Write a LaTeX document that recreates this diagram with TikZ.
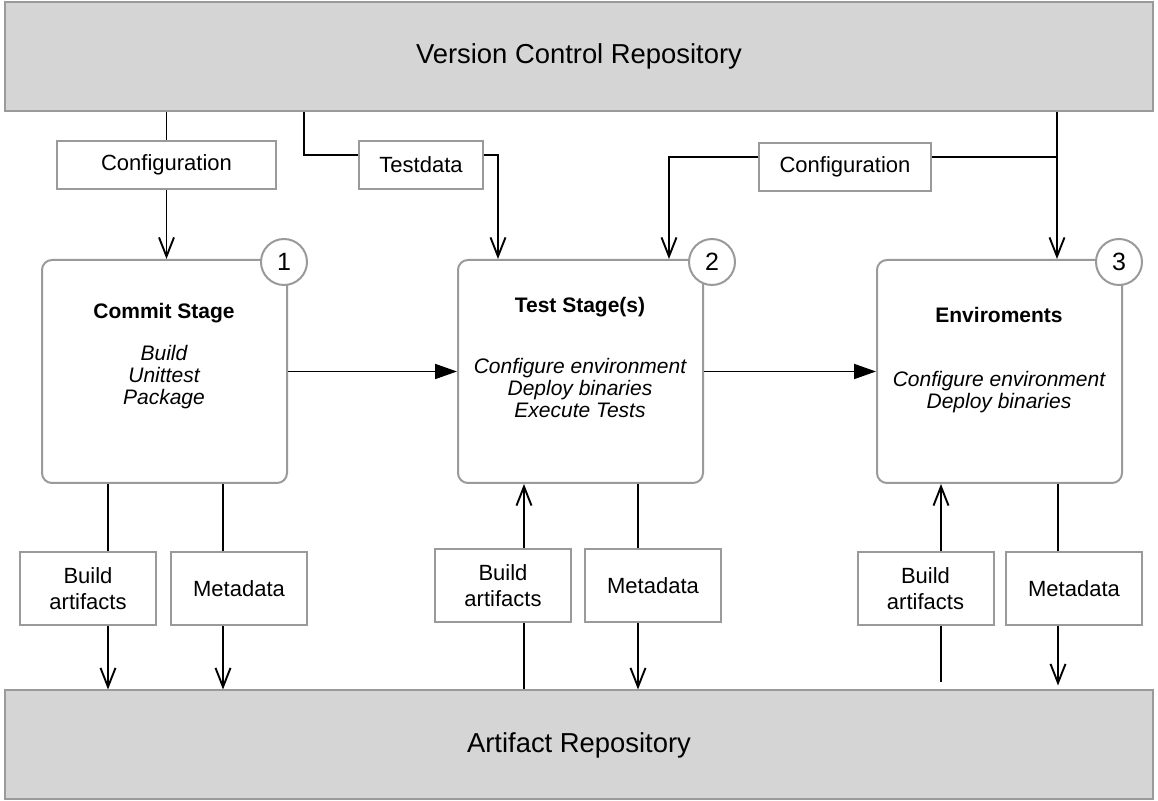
\documentclass[tikz,border=0pt]{standalone}
\usepackage{fontspec}
\setmainfont{Liberation Sans}
\usetikzlibrary{arrows.meta}
\definecolor{repogray}{HTML}{D5D5D5}
\definecolor{edgegray}{HTML}{9A9A9A}

\begin{document}
\begin{tikzpicture}[x=0.5pt,y=-0.5pt,
    repo/.style={draw=edgegray, line width=1pt, fill=repogray, minimum width=574pt, minimum height=54.5pt, font=\fontsize{13.7pt}{16pt}\selectfont},
    stage/.style={draw=edgegray, line width=1pt, rounded corners=5pt, fill=white, minimum width=122.5pt, minimum height=111.5pt},
    badge/.style={circle, draw=edgegray, line width=1pt, fill=white, minimum size=23pt, inner sep=0pt, font=\fontsize{12.5pt}{15pt}\selectfont},
    tag/.style={draw=edgegray, line width=1pt, fill=white, minimum width=68pt, minimum height=36.5pt, inner sep=0pt, align=center, font=\fontsize{11pt}{13pt}\selectfont},
    stagetitle/.style={inner sep=0pt, font=\bfseries\fontsize{10.5pt}{11pt}\selectfont},
    stagelist/.style={inner sep=0pt, align=center, font=\itshape\fontsize{10.5pt}{11pt}\selectfont},
    wire/.style={black, line width=0.95pt},
    feed/.style={wire, -{Straight Barb[length=9.5pt,width=7.5pt]}},
    push/.style={wire, -{Triangle[length=11pt,width=7.5pt]}}]
  \useasboundingbox (0,0) rectangle (1158,801);

  % repositories
  \node[repo] (vcr) at (579,56.5) {Version Control Repository};
  \node[repo] (ar) at (579,745) {Artifact Repository};

  % stages
  \node[stage] (s1) at (164.5,371.5) {};
  \node[stage] (s2) at (580.5,371.5) {};
  \node[stage] (s3) at (999.5,371.5) {};
  \node[badge] (n1) at ([shift={(-4,3)}]s1.north east) {1};
  \node[badge] (n2) at ([shift={(8,3)}]s2.north east) {2};
  \node[badge] (n3) at ([shift={(-4,3)}]s3.north east) {3};

  \node[stagetitle] (t1) at (164,313) {Commit Stage};
  \node[stagelist] (l1) at (164,377) {Build\\Unittest\\Package};
  \node[stagetitle] (t2) at (580,307) {Test Stage(s)};
  \node[stagelist] (l2) at (580,388) {Configure environment\\Deploy binaries\\Execute Tests};
  \node[stagetitle] (t3) at (999,315) {Enviroments};
  \node[stagelist] (l3) at (999,392) {Configure environment\\Deploy binaries};

  % labels on the wires
  \node[tag, minimum width=109.5pt, minimum height=24pt] (cfgA) at (166.5,165) {Configuration};
  \node[tag, minimum width=62pt, minimum height=24pt] (tdata) at (421,165) {Testdata};
  \node[tag, minimum width=86pt, minimum height=24pt] (cfgB) at (845,167) {Configuration};
  \node[tag] (ba1) at (88,588.5) {Build\\artifacts};
  \node[tag] (md1) at (239,588.5) {Metadata};
  \node[tag] (ba2) at (503,586) {Build\\artifacts};
  \node[tag] (md2) at (653,586) {Metadata};
  \node[tag] (ba3) at (925.5,588.5) {Build\\artifacts};
  \node[tag] (md3) at (1074,588.5) {Metadata};

  \coordinate (dropB) at ([xshift=106pt]s2.north west);
  \coordinate (dropC) at ([xshift=90.5pt]s3.north west);
  \coordinate (tdIn) at ([yshift=5pt]tdata.west);
  \coordinate (cfgBout) at ([yshift=5pt]cfgB.east);

  % top connectors
  \draw[wire] (cfgA.north |- vcr.south) -- (cfgA.north);
  \draw[feed] (cfgA.south) -- (cfgA.south |- s1.north);
  \draw[wire] ([xshift=150pt]vcr.south west) |- (tdIn);
  \draw[feed] ([yshift=5pt]tdata.east) -| ([xshift=20.5pt]s2.north west);
  \draw[feed] (dropC |- vcr.south) -- (dropC);
  \draw[wire] (cfgBout) -- (cfgBout -| dropC);
  \draw[feed] ([yshift=5pt]cfgB.west) -| (dropB);

  % stage to stage
  \draw[push] (s1.east) -- (s2.west);
  \draw[push] (s2.east) -- (s3.west);

  % bottom connectors
  \draw[wire] ([xshift=10pt]ba1.north |- s1.south) -- ([xshift=10pt]ba1.north);
  \draw[feed] ([xshift=10pt]ba1.south) -- ([xshift=10pt]ba1.south |- ar.north);
  \draw[wire] ([xshift=-8pt]md1.north |- s1.south) -- ([xshift=-8pt]md1.north);
  \draw[feed] ([xshift=-8pt]md1.south) -- ([xshift=-8pt]md1.south |- ar.north);

  \draw[wire] ([xshift=10.5pt]ba2.south |- ar.north) -- ([xshift=10.5pt]ba2.south);
  \draw[feed] ([xshift=10.5pt]ba2.north) -- ([xshift=10.5pt]ba2.north |- s2.south);
  \draw[wire] ([xshift=-7.5pt]md2.north |- s2.south) -- ([xshift=-7.5pt]md2.north);
  \draw[feed] ([xshift=-7.5pt]md2.south) -- ([xshift=-7.5pt]md2.south |- ar.north);

  \draw[wire] ([xshift=7.75pt,yshift=3.5pt]ba3.south |- ar.north) -- ([xshift=7.75pt]ba3.south);
  \draw[feed] ([xshift=7.75pt]ba3.north) -- ([xshift=7.75pt]ba3.north |- s3.south);
  \draw[wire] ([xshift=-8pt]md3.north |- s3.south) -- ([xshift=-8pt]md3.north);
  \draw[feed] ([xshift=-8pt]md3.south) -- ([xshift=-8pt,yshift=2pt]md3.south |- ar.north);
\end{tikzpicture}
\end{document}
